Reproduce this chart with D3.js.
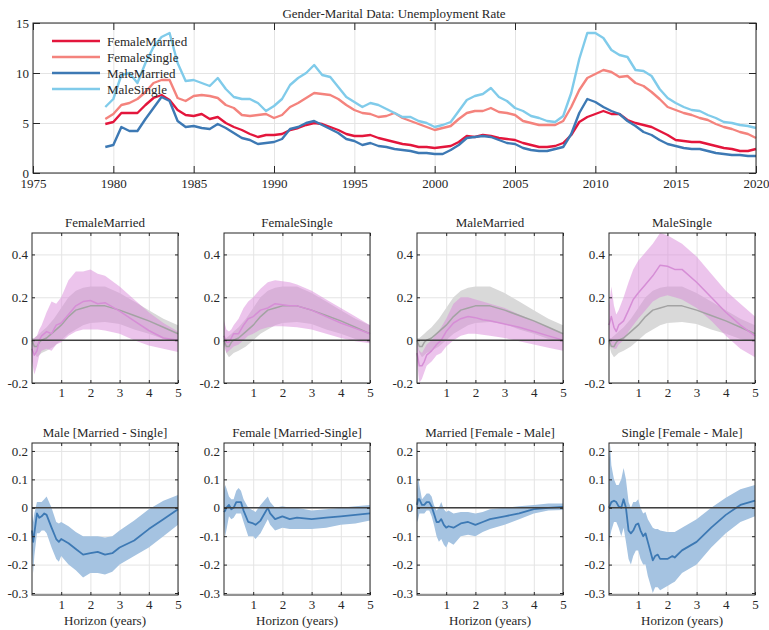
<!DOCTYPE html>
<meta charset="utf-8">
<style>
  body { margin: 0; background: #fff; }
  text { font-family: "Liberation Serif", "Times New Roman", serif; fill: #262626; }
  .grid line { stroke: #e4e4e4; stroke-width: 1; }
  .grid path { display: none; }
  .ax path { display: none; }
  .ax line { stroke: #262626; }
  .ax text { font-size: 13px; }
</style>
<svg width="769" height="630"></svg>
<script src="https://d3js.org/d3.v7.min.js"></script>
<script>
var svg = d3.select("svg");

// ---- top panel: monthly unemployment rates, read every half year ----
var years = d3.range(1979.5, 2020.01, 0.5);

var femaleMarried = [4.9,
  5.1, 6.0, 6.0, 6.0, 6.8, 7.5, 7.8, 7.3, 6.3, 5.8,
  5.7, 5.9, 5.4, 5.6, 5.0, 4.6, 4.3, 3.9, 3.6, 3.8,
  3.8, 3.9, 4.3, 4.5, 4.8, 5.0, 4.9, 4.6, 4.3, 3.9,
  3.7, 3.7, 3.8, 3.5, 3.3, 3.1, 2.9, 2.8, 2.6, 2.6,
  2.5, 2.6, 2.7, 3.1, 3.7, 3.6, 3.8, 3.7, 3.5, 3.4,
  3.3, 3.0, 2.8, 2.6, 2.6, 2.7, 3.0, 3.8, 5.1, 5.6,
  5.9, 6.2, 5.9, 5.9, 5.3, 5.0, 4.8, 4.6, 4.2, 3.8,
  3.3, 3.2, 3.1, 3.1, 2.9, 2.7, 2.5, 2.4, 2.2, 2.2,
  2.4];
var femaleSingle = [5.4,
  5.9, 6.8, 7.0, 7.4, 8.1, 9.0, 9.3, 9.3, 7.5, 7.2,
  7.7, 7.8, 7.7, 7.5, 6.8, 6.5, 5.8, 5.7, 5.8, 5.9,
  5.5, 5.8, 6.6, 7.0, 7.5, 8.0, 7.9, 7.8, 7.4, 6.8,
  6.3, 6.0, 5.9, 5.6, 5.7, 6.0, 5.5, 5.2, 4.9, 4.6,
  4.3, 4.5, 4.7, 5.4, 6.0, 6.2, 6.2, 6.5, 6.1, 6.0,
  5.8, 5.2, 5.0, 4.8, 4.8, 4.8, 5.2, 6.6, 8.3, 9.5,
  9.9, 10.3, 10.1, 9.6, 9.7, 9.0, 8.7, 8.1, 7.4, 6.6,
  6.3, 6.0, 5.8, 5.5, 5.3, 4.9, 4.6, 4.4, 4.1, 3.9,
  3.5];
var maleMarried = [2.6,
  2.8, 4.6, 4.2, 4.2, 5.4, 6.5, 7.6, 7.2, 5.2, 4.6,
  4.7, 4.5, 4.4, 4.9, 4.5, 4.0, 3.5, 3.3, 2.9, 3.0,
  3.1, 3.4, 4.4, 4.6, 5.0, 5.2, 4.8, 4.4, 4.0, 3.4,
  3.2, 2.8, 3.0, 2.7, 2.6, 2.4, 2.3, 2.2, 2.0, 2.0,
  1.9, 1.9, 2.3, 2.8, 3.5, 3.6, 3.7, 3.6, 3.3, 3.0,
  2.9, 2.5, 2.3, 2.2, 2.2, 2.4, 2.6, 3.9, 6.0, 7.4,
  7.1, 6.6, 6.2, 5.9, 5.2, 4.7, 4.1, 3.8, 3.3, 2.9,
  2.7, 2.5, 2.4, 2.4, 2.2, 2.0, 1.9, 1.8, 1.8, 1.7,
  1.7];
var maleSingle = [6.6,
  7.4, 9.8, 10.0, 9.0, 11.0, 12.6, 13.6, 14.0, 11.0, 9.2,
  9.3, 9.0, 8.7, 9.5, 8.4, 7.6, 7.4, 7.4, 7.0, 6.2,
  6.7, 7.4, 8.8, 9.5, 10.0, 10.8, 9.8, 9.6, 8.6, 7.6,
  7.1, 6.6, 7.0, 6.8, 6.4, 6.0, 5.6, 5.6, 5.2, 5.0,
  4.6, 4.8, 5.1, 6.2, 7.3, 7.7, 7.9, 8.5, 7.6, 7.2,
  6.5, 6.2, 5.7, 5.5, 5.2, 5.1, 5.7, 8.0, 11.4, 14.0,
  14.0, 13.5, 12.3, 11.8, 11.6, 10.3, 10.2, 9.7, 8.4, 7.5,
  7.0, 6.6, 6.3, 6.2, 5.8, 5.5, 5.1, 5.0, 4.8, 4.7,
  4.5];

var seriesNames = ["FemaleMarried", "FemaleSingle", "MaleMarried", "MaleSingle"];
var seriesValues = [femaleMarried, femaleSingle, maleMarried, maleSingle];
var seriesColors = ["#e3163c", "#f4837d", "#3d79b4", "#80cbea"];
var yearTicks = d3.range(1975, 2021, 5);
var rateTicks = [0, 5, 10, 15];

// ---- middle row: impulse responses (years after shock) ----
var aggH   = [0, 0.08, 0.17, 0.25, 0.33, 0.5, 0.75, 1, 1.25, 1.5, 1.75, 2, 2.5, 3, 3.5, 4, 4.5, 5];
var aggMid = [0, -0.03, -0.03, -0.01, 0.0, 0.01, 0.04, 0.07, 0.11, 0.14, 0.15, 0.16, 0.16, 0.14, 0.115, 0.09, 0.06, 0.03];
var aggHi  = [0.01, 0.01, 0.02, 0.03, 0.04, 0.06, 0.1, 0.15, 0.2, 0.23, 0.245, 0.25, 0.25, 0.22, 0.18, 0.14, 0.1, 0.07];
var aggLo  = [-0.02, -0.06, -0.08, -0.07, -0.06, -0.05, -0.03, 0.0, 0.03, 0.05, 0.07, 0.08, 0.085, 0.075, 0.05, 0.03, 0.005, -0.01];

var irfH  = [0, 0.08, 0.17, 0.25, 0.33, 0.5, 0.67, 0.83, 1, 1.25, 1.5, 1.75, 2, 2.25, 2.5, 3, 3.5, 4, 4.5, 5];
var fmMid = [-0.04, -0.07, -0.05, 0.0, 0.02, 0.04, 0.03, 0.07, 0.08, 0.12, 0.16, 0.18, 0.185, 0.17, 0.175, 0.135, 0.09, 0.045, 0.01, 0.0];
var fmHi  = [0.0, 0.01, 0.02, 0.05, 0.07, 0.13, 0.18, 0.17, 0.2, 0.28, 0.32, 0.32, 0.33, 0.31, 0.3, 0.25, 0.19, 0.13, 0.08, 0.04];
var fmLo  = [-0.1, -0.16, -0.12, -0.07, -0.05, -0.04, -0.05, -0.02, -0.01, 0.02, 0.04, 0.05, 0.05, 0.05, 0.045, 0.03, 0.0, -0.025, -0.04, -0.055];
var fsMid = [0.02, -0.01, -0.01, 0.01, 0.03, 0.03, 0.07, 0.1, 0.11, 0.14, 0.15, 0.17, 0.165, 0.16, 0.16, 0.14, 0.11, 0.08, 0.055, 0.03];
var fsHi  = [0.09, 0.05, 0.04, 0.05, 0.07, 0.1, 0.15, 0.18, 0.2, 0.24, 0.27, 0.28, 0.275, 0.27, 0.26, 0.23, 0.19, 0.15, 0.11, 0.07];
var fsLo  = [-0.02, -0.06, -0.05, -0.04, -0.03, -0.02, 0.0, 0.02, 0.03, 0.05, 0.06, 0.065, 0.065, 0.062, 0.06, 0.05, 0.03, 0.01, -0.005, -0.015];
var mmMid = [-0.06, -0.12, -0.12, -0.1, -0.07, -0.05, -0.02, 0.0, 0.04, 0.08, 0.1, 0.11, 0.105, 0.095, 0.09, 0.075, 0.06, 0.04, 0.02, 0.0];
var mmHi  = [-0.01, -0.05, -0.06, -0.04, -0.02, 0.0, 0.03, 0.06, 0.1, 0.17, 0.2, 0.2, 0.19, 0.18, 0.17, 0.15, 0.12, 0.09, 0.06, 0.03];
var mmLo  = [-0.1, -0.2, -0.18, -0.15, -0.12, -0.1, -0.07, -0.06, -0.03, 0.0, 0.02, 0.03, 0.03, 0.025, 0.02, 0.01, -0.005, -0.02, -0.035, -0.05];
var msMid = [0.07, 0.11, 0.06, 0.04, 0.07, 0.09, 0.14, 0.19, 0.22, 0.26, 0.3, 0.35, 0.345, 0.33, 0.33, 0.27, 0.2, 0.13, 0.07, 0.02];
var msHi  = [0.16, 0.25, 0.16, 0.12, 0.14, 0.2, 0.27, 0.33, 0.37, 0.41, 0.45, 0.5, 0.49, 0.47, 0.45, 0.39, 0.31, 0.23, 0.17, 0.11];
var msLo  = [0.0, -0.03, -0.04, -0.04, -0.02, 0.0, 0.04, 0.07, 0.1, 0.14, 0.18, 0.2, 0.21, 0.2, 0.19, 0.15, 0.09, 0.02, -0.04, -0.08];

// ---- bottom row: differences ----
var mdH   = [0, 0.04, 0.08, 0.17, 0.25, 0.33, 0.42, 0.5, 0.67, 0.83, 0.92, 1, 1.25, 1.5, 1.75, 2, 2.25, 2.5, 2.75, 3, 3.5, 4, 4.5, 5];
var mdMid = [-0.08, -0.12, -0.09, -0.02, -0.035, -0.03, -0.02, -0.025, -0.07, -0.11, -0.12, -0.11, -0.125, -0.145, -0.165, -0.16, -0.155, -0.165, -0.16, -0.14, -0.115, -0.075, -0.04, -0.005];
var mdHi  = [-0.02, -0.05, -0.02, 0.02, 0.02, 0.02, 0.03, 0.04, 0.0, -0.05, -0.055, -0.05, -0.065, -0.085, -0.1, -0.1, -0.1, -0.105, -0.1, -0.08, -0.045, -0.005, 0.025, 0.045];
var mdLo  = [-0.15, -0.23, -0.17, -0.09, -0.09, -0.08, -0.08, -0.09, -0.14, -0.18, -0.19, -0.17, -0.2, -0.22, -0.245, -0.23, -0.23, -0.235, -0.225, -0.2, -0.17, -0.14, -0.1, -0.06];

var fdH   = [0, 0.04, 0.08, 0.17, 0.25, 0.33, 0.42, 0.5, 0.58, 0.67, 0.83, 1, 1.08, 1.25, 1.5, 1.58, 1.75, 2, 2.25, 2.5, 3, 3.5, 4, 4.5, 5];
var fdMid = [-0.015, -0.01, 0.0, 0.01, -0.005, 0.0, 0.02, 0.02, 0.02, -0.01, -0.05, -0.055, -0.06, -0.045, 0.0, -0.02, -0.04, -0.03, -0.04, -0.035, -0.04, -0.035, -0.03, -0.025, -0.02];
var fdHi  = [0.06, 0.08, 0.07, 0.04, 0.03, 0.03, 0.06, 0.07, 0.06, 0.03, 0.0, -0.01, -0.015, 0.01, 0.04, 0.02, 0.0, 0.005, 0.0, 0.0, -0.01, -0.005, 0.0, 0.005, 0.01];
var fdLo  = [-0.05, -0.1, -0.08, -0.03, -0.04, -0.035, -0.02, -0.02, -0.02, -0.05, -0.1, -0.1, -0.11, -0.09, -0.04, -0.06, -0.08, -0.07, -0.075, -0.075, -0.075, -0.07, -0.06, -0.055, -0.045];

var mgH   = [0, 0.04, 0.08, 0.17, 0.25, 0.33, 0.42, 0.5, 0.58, 0.67, 0.75, 0.83, 0.92, 1, 1.08, 1.25, 1.5, 1.75, 2, 2.25, 2.5, 3, 3.5, 4, 4.5, 5];
var mgMid = [0.01, 0.03, 0.03, 0.01, 0.01, 0.02, 0.02, 0.005, -0.02, -0.05, -0.05, -0.04, -0.06, -0.07, -0.065, -0.07, -0.055, -0.05, -0.06, -0.05, -0.04, -0.03, -0.02, -0.005, 0.0, 0.003];
var mgHi  = [0.06, 0.11, 0.08, 0.03, 0.04, 0.05, 0.05, 0.04, 0.01, -0.01, 0.0, 0.02, -0.005, -0.015, -0.01, -0.02, -0.015, -0.015, -0.02, -0.015, -0.005, 0.0, 0.005, 0.01, 0.015, 0.015];
var mgLo  = [-0.05, -0.04, -0.02, -0.02, -0.02, -0.01, -0.01, -0.03, -0.06, -0.1, -0.12, -0.11, -0.13, -0.14, -0.12, -0.13, -0.1, -0.095, -0.1, -0.085, -0.075, -0.06, -0.04, -0.02, -0.01, -0.008];

var sgH   = [0, 0.04, 0.08, 0.17, 0.25, 0.33, 0.42, 0.5, 0.58, 0.67, 0.75, 0.83, 0.92, 1, 1.08, 1.17, 1.25, 1.33, 1.5, 1.58, 1.67, 1.75, 2, 2.17, 2.25, 2.5, 3, 3.5, 4, 4.5, 5];
var sgMid = [0.0, 0.01, 0.02, 0.025, 0.02, 0.005, 0.0, 0.03, 0.0, -0.08, -0.09, -0.08, -0.06, -0.055, -0.08, -0.1, -0.09, -0.12, -0.185, -0.17, -0.165, -0.18, -0.18, -0.17, -0.175, -0.15, -0.12, -0.07, -0.025, 0.01, 0.025];
var sgHi  = [0.17, 0.22, 0.15, 0.1, 0.08, 0.08, 0.1, 0.14, 0.1, 0.02, 0.0, 0.02, 0.02, 0.03, 0.0, -0.02, -0.015, -0.04, -0.07, -0.075, -0.075, -0.08, -0.085, -0.085, -0.085, -0.07, -0.04, 0.0, 0.035, 0.065, 0.08];
var sgLo  = [-0.16, -0.1, -0.08, -0.05, -0.05, -0.07, -0.1, -0.07, -0.12, -0.18, -0.2, -0.17, -0.15, -0.15, -0.18, -0.2, -0.2, -0.24, -0.3, -0.28, -0.28, -0.29, -0.275, -0.265, -0.26, -0.23, -0.2, -0.14, -0.09, -0.05, -0.03];

var horizonTicks = [1, 2, 3, 4, 5];
var irfTicks = [-0.2, 0, 0.2, 0.4];
var diffTicks = [-0.3, -0.2, -0.1, 0, 0.1, 0.2];

var irfPanels = [
  {title: "FemaleMarried", h: irfH, mid: fmMid, lo: fmLo, hi: fmHi},
  {title: "FemaleSingle",  h: irfH, mid: fsMid, lo: fsLo, hi: fsHi},
  {title: "MaleMarried",   h: irfH, mid: mmMid, lo: mmLo, hi: mmHi},
  {title: "MaleSingle",    h: irfH, mid: msMid, lo: msLo, hi: msHi}
];
var diffPanels = [
  {title: "Male [Married - Single]",   h: mdH, mid: mdMid, lo: mdLo, hi: mdHi},
  {title: "Female [Married-Single]",   h: fdH, mid: fdMid, lo: fdLo, hi: fdHi},
  {title: "Married [Female - Male]",   h: mgH, mid: mgMid, lo: mgLo, hi: mgHi},
  {title: "Single [Female - Male]",    h: sgH, mid: sgMid, lo: sgLo, hi: sgHi}
];

// ---- helpers ----
function grid(g, x, y, xt, yt) {
  var w = x.range()[1] - x.range()[0], h = y.range()[0] - y.range()[1];
  g.append("g").attr("class", "grid").attr("transform", "translate(0," + y.range()[0] + ")")
    .call(d3.axisBottom(x).tickValues(xt).tickSize(-h).tickFormat(""));
  g.append("g").attr("class", "grid").attr("transform", "translate(" + x.range()[0] + ",0)")
    .call(d3.axisLeft(y).tickValues(yt).tickSize(-w).tickFormat(""));
}

function frame(g, x, y, xt, yt, yf, tk, pad) {
  var x0 = x.range()[0], x1 = x.range()[1], y0 = y.range()[0], y1 = y.range()[1];
  var axes = [
    g.append("g").attr("transform", "translate(0," + y0 + ")")
      .call(d3.axisBottom(x).tickValues(xt).tickSize(-tk).tickPadding(pad).tickFormat(d3.format("d"))),
    g.append("g").attr("transform", "translate(0," + y1 + ")")
      .call(d3.axisTop(x).tickValues(xt).tickSize(-tk).tickFormat("")),
    g.append("g").attr("transform", "translate(" + x0 + ",0)")
      .call(d3.axisLeft(y).tickValues(yt).tickSize(-tk).tickPadding(4).tickFormat(yf)),
    g.append("g").attr("transform", "translate(" + x1 + ",0)")
      .call(d3.axisRight(y).tickValues(yt).tickSize(-tk).tickFormat(""))
  ];
  axes.forEach(function(a) { a.attr("class", "ax").attr("font-family", null).attr("font-size", null); });
  g.append("rect").attr("x", x0).attr("y", y1).attr("width", x1 - x0).attr("height", y0 - y1)
    .attr("fill", "none").attr("stroke", "#262626").attr("stroke-width", 1);
}

function band(g, x, y, h, lo, hi, fill, op) {
  var a = d3.area().x(function(d, i) { return x(h[i]); })
    .y0(function(d, i) { return y(lo[i]); }).y1(function(d, i) { return y(hi[i]); });
  g.append("path").attr("d", a(h)).attr("fill", fill).attr("fill-opacity", op);
}

function curve(g, x, y, h, v, color, wdt) {
  var l = d3.line().x(function(d, i) { return x(h[i]); }).y(function(d) { return y(d); });
  g.append("path").attr("d", l(v)).attr("fill", "none").attr("stroke", color)
    .attr("stroke-width", wdt).attr("stroke-linejoin", "round");
}

function zeroLine(g, x, y) {
  g.append("line").attr("x1", x.range()[0]).attr("x2", x.range()[1])
    .attr("y1", y(0)).attr("y2", y(0)).attr("stroke", "#404040").attr("stroke-width", 1.5);
}

var fmtPlain = function(d) { return d === 0 ? "0" : d3.format(".1f")(d).replace("\u2212", "-"); };

// ---- top panel ----
var xTop = d3.scaleLinear().domain([1975, 2020]).range([33, 756]);
var yTop = d3.scaleLinear().domain([0, 15]).range([173, 23]);
var gTop = svg.append("g");
grid(gTop, xTop, yTop, yearTicks, rateTicks);
seriesValues.forEach(function(v, k) {
  curve(gTop, xTop, yTop, years, v, seriesColors[k], 2.4);
});
frame(gTop, xTop, yTop, yearTicks, rateTicks, d3.format("d"), 7, 6);
gTop.append("text").attr("x", 394).attr("y", 18).attr("text-anchor", "middle")
  .style("font-size", "13px").text("Gender-Marital Data: Unemployment Rate");

var leg = gTop.selectAll(".leg").data(seriesNames).enter().append("g")
  .attr("transform", function(d, i) { return "translate(52," + (41 + i * 16) + ")"; });
leg.append("line").attr("x1", 0).attr("x2", 48).attr("y1", 0).attr("y2", 0)
  .attr("stroke", function(d, i) { return seriesColors[i]; }).attr("stroke-width", 2.6);
leg.append("text").attr("x", 55).attr("y", 4.5).style("font-size", "13px").text(function(d) { return d; });

// ---- small panels ----
var lefts = [32, 224, 417, 609], pw = 146;

irfPanels.forEach(function(p, k) {
  var x = d3.scaleLinear().domain([0, 5]).range([lefts[k], lefts[k] + pw]);
  var y = d3.scaleLinear().domain([-0.2, 0.5]).range([383, 233]);
  var g = svg.append("g");
  grid(g, x, y, horizonTicks, irfTicks);
  band(g, x, y, aggH, aggLo, aggHi, "#d9d9d9", 1);
  band(g, x, y, p.h, p.lo, p.hi, "#d98ad9", 0.5);
  curve(g, x, y, aggH, aggMid, "#a3a3a3", 1.5);
  curve(g, x, y, p.h, p.mid, "#d68ed6", 1.5);
  zeroLine(g, x, y);
  frame(g, x, y, horizonTicks, irfTicks, fmtPlain, 3, 5);
  g.append("text").attr("x", lefts[k] + pw / 2).attr("y", 227).attr("text-anchor", "middle")
    .style("font-size", "13px").text(p.title);
});

diffPanels.forEach(function(p, k) {
  var x = d3.scaleLinear().domain([0, 5]).range([lefts[k], lefts[k] + pw]);
  var y = d3.scaleLinear().domain([-0.307, 0.228]).range([595, 443]);
  var g = svg.append("g");
  grid(g, x, y, horizonTicks, diffTicks);
  band(g, x, y, p.h, p.lo, p.hi, "#a5c3e1", 1);
  curve(g, x, y, p.h, p.mid, "#3d79b4", 1.8);
  zeroLine(g, x, y);
  frame(g, x, y, horizonTicks, diffTicks, fmtPlain, 3, 5);
  g.append("text").attr("x", lefts[k] + pw / 2).attr("y", 437).attr("text-anchor", "middle")
    .style("font-size", "13px").text(p.title);
  g.append("text").attr("x", lefts[k] + pw / 2).attr("y", 625).attr("text-anchor", "middle")
    .style("font-size", "13px").text("Horizon (years)");
});
</script>
